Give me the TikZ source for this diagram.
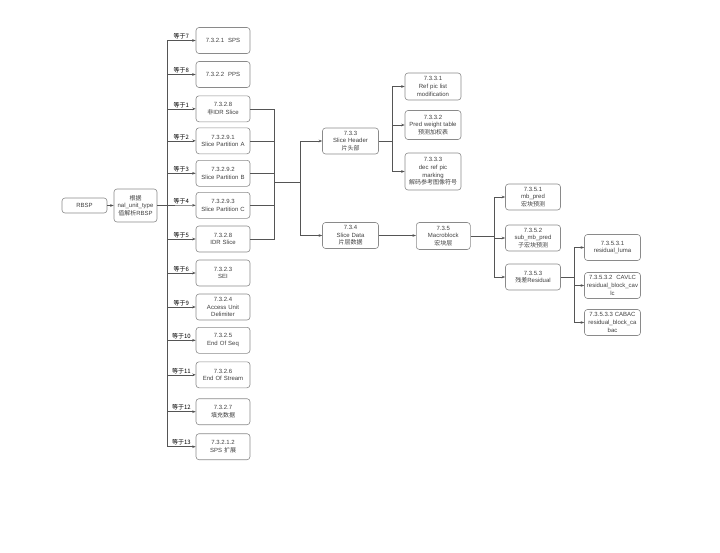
\documentclass[tikz,border=0pt]{standalone}
\usepackage{fontspec}
\setmainfont{Liberation Sans}
\newfontfamily\cjk{Noto Sans CJK SC}
\usetikzlibrary{arrows.meta}
\definecolor{boxline}{HTML}{8A8A8A}
\definecolor{connline}{HTML}{555555}
\tikzset{
  bx/.style={draw=boxline, line width=0.6pt, rounded corners=3pt, fill=white,
    align=center, inner sep=0.5pt, font=\fontsize{6}{7.6}\selectfont, text=black!75},
  conn/.style={draw=connline, line width=0.6pt},
  arr/.style={conn, -{Stealth[length=3.5pt,width=2.6pt]}},
  lbl/.style={font=\cjk\fontsize{6}{7}\selectfont, inner sep=1pt, above, text=black}
}
\begin{document}
\begin{tikzpicture}[x=1pt,y=-1pt]
\useasboundingbox (0,0) rectangle (720,552);
% left
\node[bx, minimum width=45pt, minimum height=15pt] (rbsp) at (84.5,205.5) {RBSP};
\node[bx, minimum width=43pt, minimum height=33pt] (nal) at (135.5,205.5) {{\cjk 根据}\\nal\_unit\_type\\{\cjk 值解析}RBSP};
% column
\tikzset{col/.style={bx, minimum width=54pt, minimum height=26pt, text width=52pt}}
\node[col] (sps) at (223,40.5) {7.3.2.1\ \ SPS};
\node[col] (pps) at (223,74.5) {7.3.2.2\ \ PPS};
\node[col] (nidr) at (223,108.8) {7.3.2.8\\{\cjk 非}IDR Slice};
\node[col] (spa) at (223,140.8) {7.3.2.9.1\\Slice Partition A};
\node[col] (spb) at (223,173.3) {7.3.2.9.2\\Slice Partition B};
\node[col] (spc) at (223,205.3) {7.3.2.9.3\\Slice Partition C};
\node[col] (idr) at (223,239) {7.3.2.8\\IDR Slice};
\node[col] (sei) at (223,273) {7.3.2.3\\SEI};
\node[col] (aud) at (223,307) {7.3.2.4\\Access Unit\\Delimiter};
\node[col] (eseq) at (223,340.3) {7.3.2.5\\End Of Seq};
\node[col] (estr) at (223,374.8) {7.3.2.6\\End Of Stream};
\node[col] (fill) at (223,411.7) {7.3.2.7\\{\cjk 填充数据}};
\node[col] (spsx) at (223,446.7) {7.3.2.1.2\\SPS {\cjk 扩展}};
% slice level
\tikzset{mid/.style={bx, minimum width=55pt, text width=55pt}}
\node[mid, minimum height=26pt] (sh) at (350.5,141) {7.3.3\\Slice Header\\{\cjk 片头部}};
\node[mid, minimum height=26pt] (sd) at (350.5,235.5) {7.3.4\\Slice Data\\{\cjk 片层数据}};
\node[bx, minimum width=53pt, text width=53pt, minimum height=27pt] (mb) at (443.3,236) {7.3.5\\Macroblock\\{\cjk 宏块层}};
\node[mid, minimum height=27pt] (ref) at (433,86.5) {7.3.3.1\\Ref pic list\\modification};
\node[mid, minimum height=29pt] (pw) at (433,125) {7.3.3.2\\Pred weight table\\{\cjk 预测加权表}};
\node[mid, minimum height=37pt] (dec) at (433,171.5) {7.3.3.3\\dec ref pic\\marking\\{\cjk 解码参考图像符号}};
\tikzset{mbc/.style={bx, minimum width=54pt, text width=54pt, minimum height=26pt}}
\node[mbc] (mbp) at (533,197) {7.3.5.1\\mb\_pred\\{\cjk 宏块预测}};
\node[mbc] (smb) at (533,238) {7.3.5.2\\sub\_mb\_pred\\{\cjk 子宏块预测}};
\node[mbc] (res) at (533,277) {7.3.5.3\\{\cjk 残差}Residual};
\tikzset{rc/.style={bx, minimum width=55pt, text width=55pt, minimum height=26pt}}
\node[rc] (rl) at (612.5,247.5) {7.3.5.3.1\\residual\_luma};
\node[rc] (cavlc) at (612.5,285.5) {7.3.5.3.2\ \ CAVLC\\residual\_block\_cav\\lc};
\node[rc] (cabac) at (612.5,322.5) {7.3.5.3.3\ CABAC\\residual\_block\_ca\\bac};
% connectors
\draw[arr] (rbsp) -- (nal);
\coordinate (t) at (167,205.5);
\draw[conn] (nal.east) -- (t);
\draw[arr] (t) |- (sps.west) node[lbl, pos=0.75] {等于7};
\draw[arr] (t) |- (pps.west) node[lbl, pos=0.75] {等于8};
\draw[arr] (t) |- (nidr.west) node[lbl, pos=0.75] {等于1};
\draw[arr] (t) |- (spa.west) node[lbl, pos=0.75] {等于2};
\draw[arr] (t) |- (spb.west) node[lbl, pos=0.75] {等于3};
\draw[arr] (t) -- (spc.west) node[lbl, pos=0.5] {等于4};
\draw[arr] (t) |- (idr.west) node[lbl, pos=0.75] {等于5};
\draw[arr] (t) |- (sei.west) node[lbl, pos=0.75] {等于6};
\draw[arr] (t) |- (aud.west) node[lbl, pos=0.75] {等于9};
\draw[arr] (t) |- (eseq.west) node[lbl, pos=0.75] {等于10};
\draw[arr] (t) |- (estr.west) node[lbl, pos=0.75] {等于11};
\draw[arr] (t) |- (fill.west) node[lbl, pos=0.75] {等于12};
\draw[arr] (t) |- (spsx.west) node[lbl, pos=0.75] {等于13};
% slices to header/data
\coordinate (j1) at (274,182);
\coordinate (j2) at (300,182);
\draw[conn] (nidr.east) -| (j1);
\draw[conn] (spa.east) -| (j1);
\draw[conn] (spb.east) -| (j1);
\draw[conn] (spc.east) -| (j1);
\draw[conn] (idr.east) -| (j1);
\draw[conn] (j1) -- (j2);
\draw[arr] (j2) |- (sh.west);
\draw[arr] (j2) |- (sd.west);
% header children
\coordinate (j3) at (392,141);
\draw[conn] (sh.east) -- (j3);
\draw[arr] (j3) |- (ref.west);
\draw[arr] (j3) |- (pw.west);
\draw[arr] (j3) |- (dec.west);
% data to macroblock
\draw[arr] (sd.east) -- (mb.west |- sd.east);
\coordinate (j4) at (494,236);
\draw[conn] (mb.east) -- (j4);
\draw[arr] (j4) |- (mbp.west);
\draw[arr] (j4) |- (smb.west);
\draw[arr] (j4) |- (res.west);
% residual children
\coordinate (j5) at (574,277);
\draw[conn] (res.east) -- (j5);
\draw[arr] (j5) |- (rl.west);
\draw[arr] (j5) |- (cavlc.west);
\draw[arr] (j5) |- (cabac.west);
\end{tikzpicture}
\end{document}
